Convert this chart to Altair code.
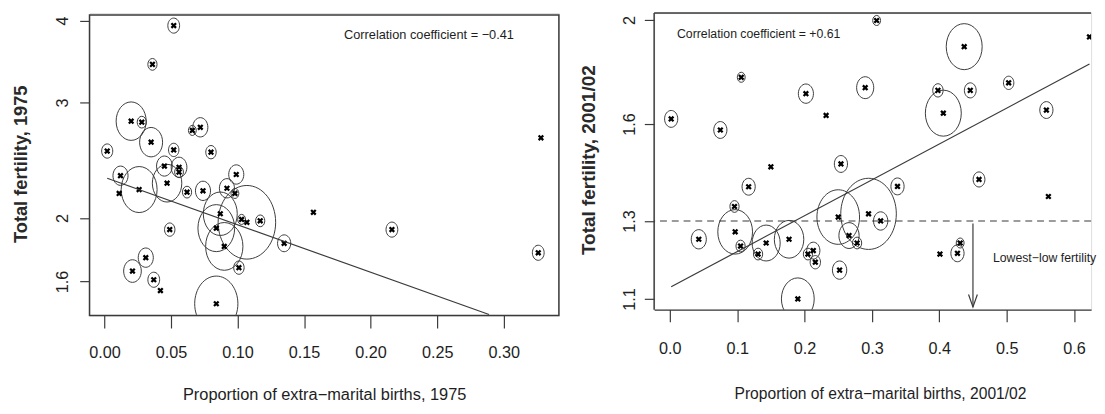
import altair as alt
import pandas as pd

# ---------------- Panel 1: 1975 ----------------
x_1975 = [0.052, 0.036, 0.020, 0.028, 0.035, 0.002, 0.052, 0.066, 0.072, 0.080,
          0.012, 0.011, 0.026, 0.045, 0.056, 0.056, 0.047, 0.062, 0.074, 0.099,
          0.092, 0.098, 0.087, 0.084, 0.090, 0.107, 0.103, 0.117, 0.135, 0.101,
          0.049, 0.031, 0.021, 0.037, 0.042, 0.084, 0.157, 0.216, 0.326, 0.328]
tfr_1975 = [3.93, 3.43, 2.81, 2.80, 2.61, 2.53, 2.54, 2.72, 2.75, 2.52,
            2.32, 2.18, 2.21, 2.40, 2.39, 2.35, 2.26, 2.19, 2.20, 2.33,
            2.22, 2.18, 2.03, 1.93, 1.81, 1.97, 1.99, 1.98, 1.83, 1.68,
            1.92, 1.74, 1.66, 1.61, 1.55, 1.48, 2.04, 1.92, 1.77, 2.65]
weight_1975 = [36, 22, 234, 22, 137, 32, 28, 16, 59, 28,
               59, 0, 335, 64, 64, 20, 225, 22, 59, 59,
               59, 16, 299, 350, 361, 858, 16, 22, 45, 28,
               28, 59, 81, 36, 0, 484, 0, 36, 36, 0]
fit_1975_x = [0.002, 0.289]
fit_1975_y = [2.30, 1.425]

# ---------------- Panel 2: 2001/02 ----------------
x_2001 = [0.002, 0.075, 0.106, 0.202, 0.232, 0.290, 0.307, 0.150, 0.254, 0.117,
          0.096, 0.097, 0.105, 0.043, 0.131, 0.143, 0.177, 0.205, 0.213, 0.216,
          0.252, 0.190, 0.250, 0.266, 0.278, 0.295, 0.313, 0.338, 0.437, 0.398,
          0.446, 0.503, 0.406, 0.559, 0.623, 0.459, 0.562, 0.401, 0.427, 0.431]
tfr_2001 = [1.618, 1.58, 1.769, 1.708, 1.63, 1.73, 1.998, 1.46, 1.469, 1.399,
            1.341, 1.27, 1.232, 1.25, 1.211, 1.24, 1.25, 1.211, 1.22, 1.19,
            1.17, 1.10, 1.311, 1.26, 1.24, 1.32, 1.30, 1.40, 1.889, 1.72,
            1.72, 1.748, 1.638, 1.649, 1.929, 1.421, 1.37, 1.211, 1.213, 1.24]
weight_2001 = [45, 45, 16, 59, 0, 76, 16, 0, 45, 45,
               22, 313, 22, 59, 22, 204, 225, 22, 45, 28,
               53, 279, 471, 106, 22, 801, 53, 45, 335, 28,
               36, 28, 335, 45, 0, 36, 0, 0, 45, 16]
fit_2001_x = [0.002, 0.623]
fit_2001_y = [1.129, 1.82]

lowest_low_level = [1.3]
arrow_x = [0.45]
arrow_top = [1.293]
arrow_bottom = [1.081]

corr_1975 = ["Correlation coefficient = \u22120.41"]
corr_1975_pos = ([0.180], [3.80])
corr_2001 = ["Correlation coefficient = +0.61"]
corr_2001_pos = ([0.0106], [1.942])
lowlow_label = ["Lowest\u2212low fertility"]
lowlow_pos = ([0.4796], [1.20])

ticks_x_1975 = [0.0, 0.05, 0.10, 0.15, 0.20, 0.25, 0.30]
ticks_y_1975 = [1.6, 2, 3, 4]
ticks_x_2001 = [0.0, 0.1, 0.2, 0.3, 0.4, 0.5, 0.6]
ticks_y_2001 = [1.1, 1.3, 1.6, 2]

FONT = "Liberation Sans"
TXT = "#1e1e1e"
LINE = "#3a3a3a"
ELLIPSE = ("M0,-1C0.431,-1 0.781,-0.552 0.781,0C0.781,0.552 0.431,1 0,1"
           "C-0.431,1 -0.781,0.552 -0.781,0C-0.781,-0.552 -0.431,-1 0,-1Z")
CROSS = "M-1,-1L1,1M-1,1L1,-1"
VHEAD = "M-0.354,-1L0,0L0.354,-1"

size_scale = alt.Scale(domain=[0, 1000], range=[0, 6554])


def build(xs, ys, ws, fx, fy, xdom, ydom, xticks, xfmt, yticks,
          xtitle, ytitle, ax_x, ax_y, corr_text, corr_pos, corr_size):
    pts = pd.DataFrame({"x": xs, "y": ys, "w": ws})
    circ = pts[pts["w"] > 0]
    fit = pd.DataFrame({"x": fx, "y": fy})
    xsc = alt.Scale(domain=xdom, nice=False, zero=False)
    ysc = alt.Scale(type="log", domain=ydom, nice=False)
    xaxis = alt.Axis(values=xticks, format=xfmt, title=xtitle, grid=False,
                     domain=ax_x["domain"], domainColor=LINE, domainWidth=1.5,
                     tickSize=ax_x["tick"], tickColor=LINE, tickWidth=1.2,
                     labelPadding=ax_x["pad"], titlePadding=ax_x["tpad"],
                     labelFontSize=16.5, titleFontSize=ax_x["tfs"], titleFontWeight="normal",
                     labelFont=FONT, titleFont=FONT, labelColor=TXT, titleColor=TXT,
                     labelFlush=False, **({"titleX": ax_x["tx"]} if "tx" in ax_x else {}))
    yaxis = alt.Axis(values=yticks, format="~g", title=ytitle, grid=False,
                     domain=False,
                     tickSize=ax_y["tick"], tickColor=LINE, tickWidth=1.2,
                     labelAngle=-90, labelAlign="center", labelBaseline="bottom",
                     labelPadding=ax_y["pad"], titlePadding=ax_y["tpad"],
                     labelFontSize=16.5, titleFontSize=ax_y["tfs"], titleFontWeight="bold",
                     labelFont=FONT, titleFont=FONT, labelColor=TXT, titleColor="#2a2a2a",
                     labelFlush=False, titleY=ax_y["ty"])
    X = alt.X("x:Q", scale=xsc, axis=xaxis)
    Y = alt.Y("y:Q", scale=ysc, axis=yaxis)

    circles = alt.Chart(circ).mark_point(
        shape=ELLIPSE, filled=False, stroke=LINE, strokeWidth=1, opacity=1, clip=True
    ).encode(x=X, y=Y, size=alt.Size("w:Q", scale=size_scale, legend=None))
    crosses = alt.Chart(pts).mark_point(
        shape=CROSS, filled=False, stroke="#000000", strokeWidth=2.3, size=22, opacity=1, clip=True
    ).encode(x=X, y=Y)
    line = alt.Chart(fit).mark_line(color=LINE, strokeWidth=1.2, clip=True).encode(x=X, y=Y)
    label = alt.Chart(pd.DataFrame({"x": corr_pos[0], "y": corr_pos[1], "t": corr_text})).mark_text(
        align="left", baseline="middle", font=FONT, fontSize=corr_size, color=TXT
    ).encode(x=X, y=Y, text="t:N")
    return X, Y, [circles, crosses, line, label]


# Left panel: plot region begins 2px above its frame so both panels share one top edge
W1, H1 = 478, 308
X1, Y1, layers1 = build(x_1975, tfr_1975, weight_1975, fit_1975_x, fit_1975_y,
                        [-0.0113, 0.3415], [1.42, 4.107], ticks_x_1975, ".2f", ticks_y_1975,
                        "Proportion of extra\u2212marital births, 1975",
                        "Total fertility, 1975",
                        {"tick": 12.7, "pad": 17, "tpad": 26.8, "domain": False, "tfs": 16.7},
                        {"tick": 10, "pad": 9.3, "tpad": 25, "ty": 153.5, "tfs": 18.6},
                        corr_1975, corr_1975_pos, 13)

frame1 = alt.Chart(pd.DataFrame({"k": [0]})).mark_rect(
    fillOpacity=0, stroke=LINE, strokeWidth=1.5
).encode(x=alt.value(0), x2=alt.value(W1), y=alt.value(2), y2=alt.value(H1))

left = alt.layer(*layers1, frame1).properties(width=W1, height=H1)

# Right panel: kept inside the page width; its right side lies at the page edge
W2, H2 = 445, 302
X2, Y2, layers2 = build(x_2001, tfr_2001, weight_2001, fit_2001_x, fit_2001_y,
                        [-0.0233, 0.6254], [1.075, 2.030], ticks_x_2001, ".1f", ticks_y_2001,
                        "Proportion of extra\u2212marital births, 2001/02",
                        "Total fertility, 2001/02",
                        {"tick": 12.3, "pad": 19.5, "tpad": 29, "tx": 230, "domain": True,
                         "tfs": 15.9},
                        {"tick": 10, "pad": 7, "tpad": 23.5, "ty": 149.3, "tfs": 19.3},
                        corr_2001, corr_2001_pos, 12.5)

# fixed top guard so the page layout does not depend on other elements' extents
guard = alt.Chart(pd.DataFrame({"k": [0]})).mark_rule(color="white", strokeWidth=1).encode(
    y=alt.value(-15))
hline = alt.Chart(pd.DataFrame({"y": lowest_low_level})).mark_rule(
    color=LINE, strokeWidth=1.2, strokeDash=[7, 5]).encode(y=Y2)
arrow = alt.Chart(pd.DataFrame({"x": arrow_x, "y": arrow_top, "y2": arrow_bottom})).mark_rule(
    color=LINE, strokeWidth=1.2).encode(x=X2, y=Y2, y2="y2:Q")
head = alt.Chart(pd.DataFrame({"x": arrow_x, "y": arrow_bottom})).mark_point(
    shape=VHEAD, filled=False, stroke=LINE, strokeWidth=1.2, size=645, opacity=1).encode(x=X2, y=Y2)
lowtxt = alt.Chart(pd.DataFrame({"x": lowlow_pos[0], "y": lowlow_pos[1], "t": lowlow_label})).mark_text(
    align="left", baseline="middle", font=FONT, fontSize=12.5, color=TXT).encode(x=X2, y=Y2, text="t:N")
topline = alt.Chart(pd.DataFrame({"k": [0]})).mark_rule(color=LINE, strokeWidth=1.5).encode(
    y=alt.value(0))
leftline = alt.Chart(pd.DataFrame({"k": [0]})).mark_rule(color=LINE, strokeWidth=1.5).encode(
    x=alt.value(0), y=alt.value(0), y2=alt.value(H2))

right = alt.layer(guard, *layers2, hline, arrow, head, lowtxt, topline, leftline).properties(
    width=W2, height=H2)

chart = alt.hconcat(left, right, spacing=19).properties(
    padding={"left": 3, "top": -14.5, "right": 0, "bottom": -1}
).configure_view(strokeWidth=0).configure(background="white")

chart.save("out.html", embed_options={"renderer": "svg", "actions": False})
